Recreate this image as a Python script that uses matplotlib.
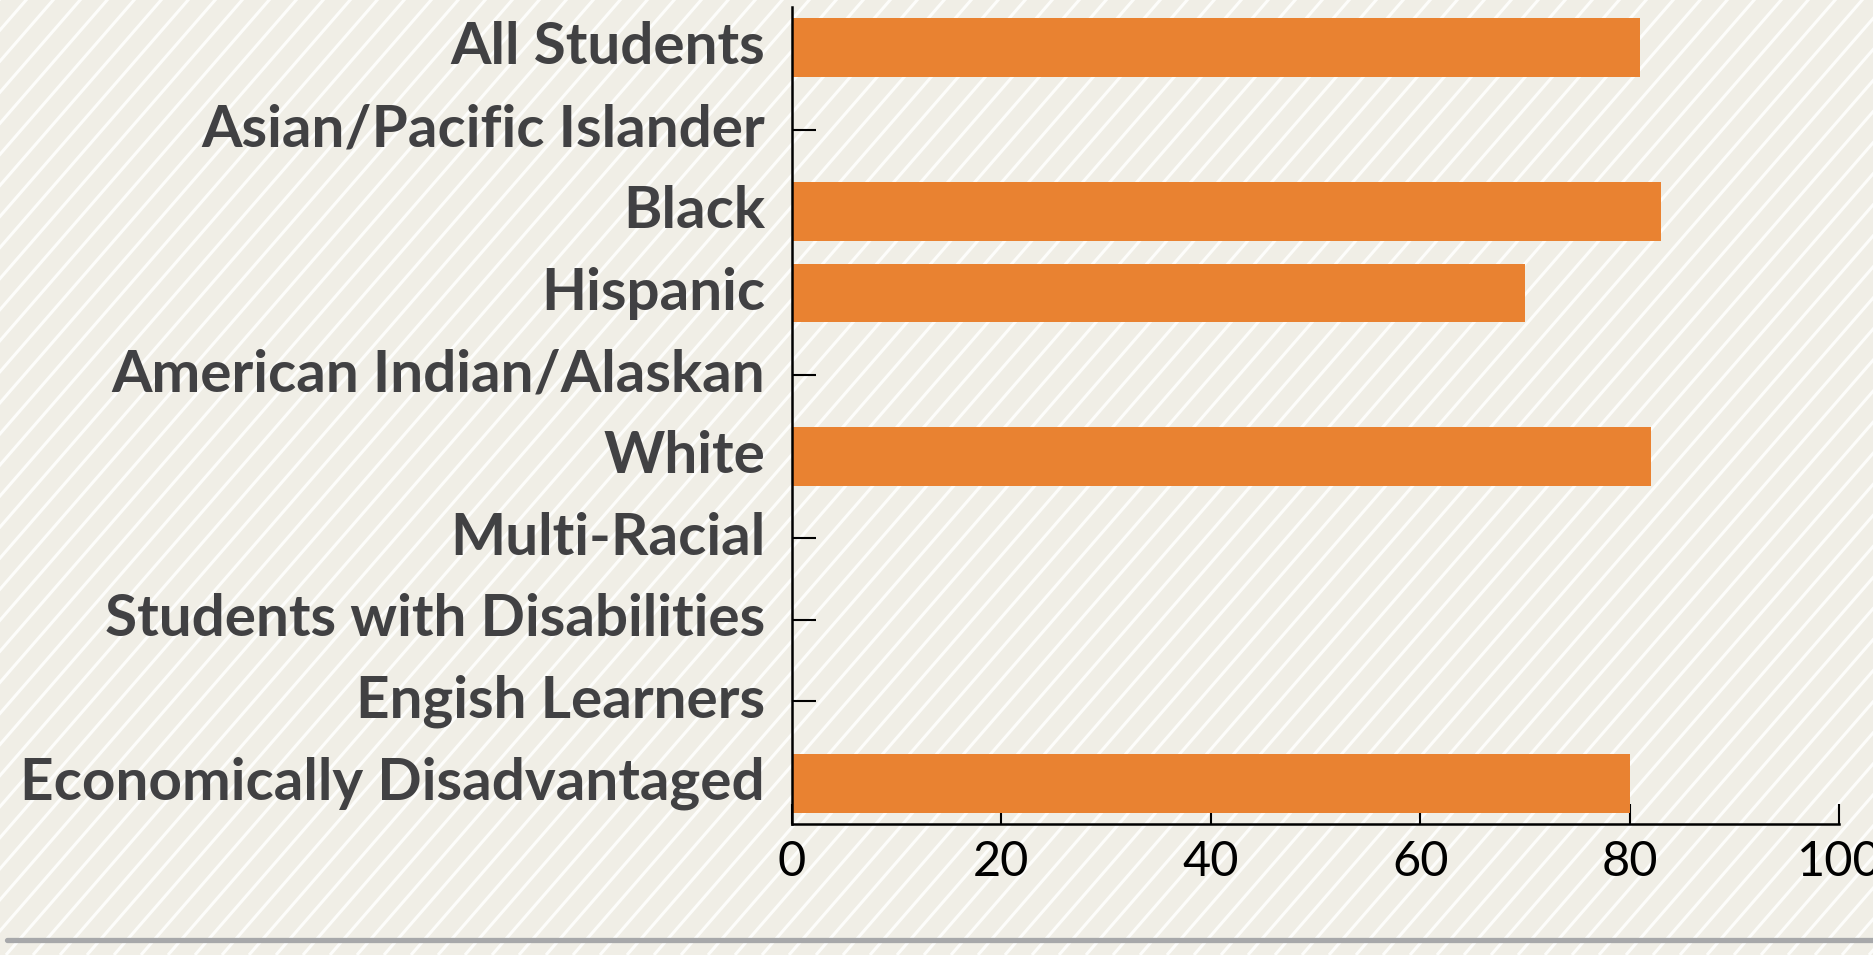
import matplotlib
matplotlib.use("Agg")
import matplotlib.pyplot as plt
import numpy as np
from matplotlib.collections import LineCollection
from matplotlib.lines import Line2D
from matplotlib.transforms import IdentityTransform, ScaledTranslation

groups = ["All Students", "Asian/Pacific Islander", "Black", "Hispanic",
          "American Indian/Alaskan", "White", "Multi-Racial",
          "Students with Disabilities", "Engish Learners",
          "Economically Disadvantaged"]
# nan = no bar shown for that group
values = [81, np.nan, 83, 70, np.nan, 82, np.nan, np.nan, np.nan, 80]
xticks = [0, 20, 40, 60, 80, 100]

W, H = 1874, 956
bg = "#f0eee6"
orange = "#e98231"

fig = plt.figure(figsize=(18.74, 9.5599), dpi=100, facecolor=bg)

# diagonal white stripes over the whole background
step = 27
ang = np.deg2rad(49)
dx = H / np.tan(ang)
segs = [[(x0, 0), (x0 + dx, H)] for x0 in np.arange(-dx, W + step, step)]
stripes = LineCollection(segs, colors="#fdfdfb", linewidths=2.2,
                         transform=IdentityTransform(), zorder=-10)
fig.add_artist(stripes)

ax = fig.add_axes([792 / W, 1 - 825 / H, (1839 - 792) / W, (825 - 8) / H])
ax.set_facecolor("none")

y = np.arange(len(groups))
ax.barh(y, np.nan_to_num(values), height=0.72, color=orange, zorder=3)

ax.set_ylim(len(groups) - 0.5, -0.5)
ax.set_xlim(0, 100)
ax.set_yticks(y)
ax.set_yticklabels([])
ax.set_xticks(xticks)
ax.set_xticklabels([str(t) for t in xticks], fontfamily="Lato",
                   fontsize=35, color="black")

# category labels, baseline a bit below the bar centre
off = ScaledTranslation(-19.4 / 72, -11.2 / 72, fig.dpi_scale_trans)
for yi, name in zip(y, groups):
    ax.text(0, yi, name, transform=ax.get_yaxis_transform() + off,
            ha="right", va="baseline", fontfamily="Lato", fontweight="bold",
            fontsize=42, color="#414143", clip_on=False)

for s in ["top", "right"]:
    ax.spines[s].set_visible(False)
for s in ["left", "bottom"]:
    ax.spines[s].set_linewidth(1.8)
    ax.spines[s].set_color("black")
    ax.spines[s].set_zorder(4)

ax.tick_params(axis="y", direction="in", length=17.5, width=1.5)
ax.tick_params(axis="x", direction="in", length=14.5, width=1.5, pad=11)

# grey rule at the bottom
rule = Line2D([7, W + 10], [H - 941, H - 941], color="#a7a8aa", linewidth=3.8,
              solid_capstyle="round", transform=IdentityTransform())
fig.add_artist(rule)

fig.savefig("out.png", dpi=100, facecolor=bg)
